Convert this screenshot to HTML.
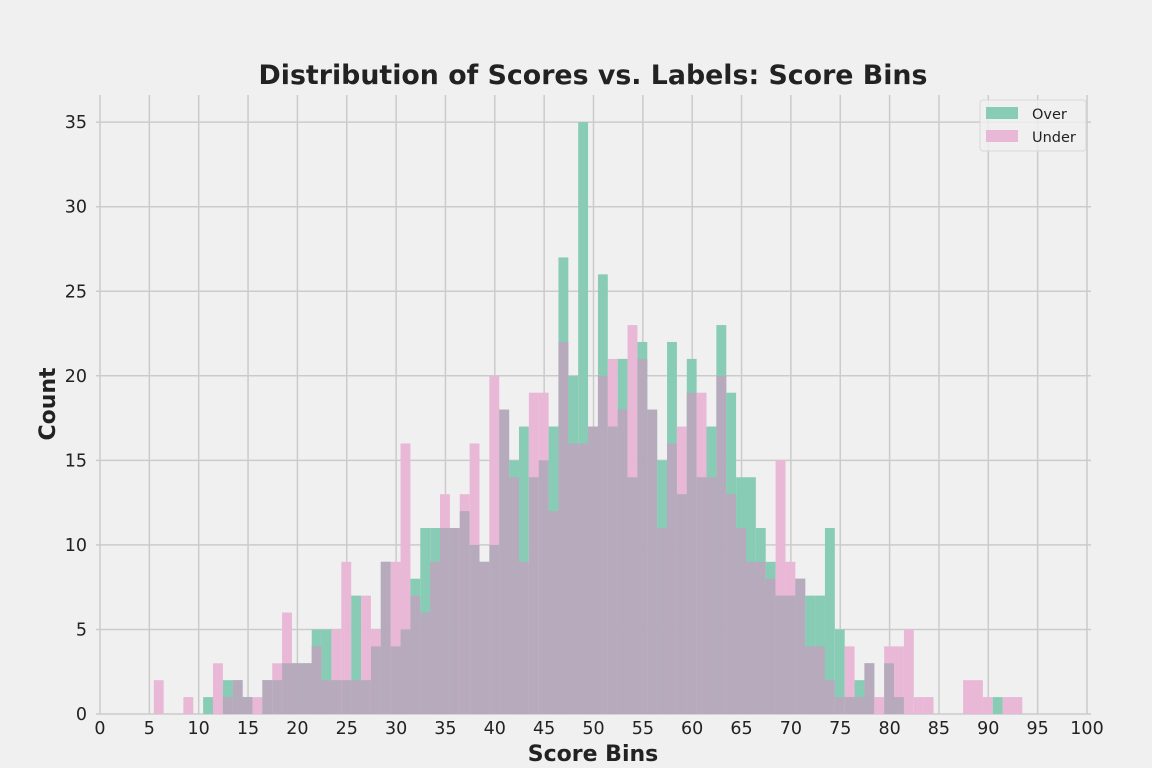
<!DOCTYPE html>
<html><head><meta charset="utf-8"><style>
body{margin:0;background:#f0f0f0;}
svg{display:block;font-family:"DejaVu Sans","Liberation Sans",sans-serif;}
</style></head><body>
<svg id="chart" width="1152" height="768" viewBox="0 0 1152 768">
<rect width="1152" height="768" fill="#f0f0f0"/>
<text x="593" y="84" text-anchor="middle" font-size="26.8" font-weight="bold" fill="#222">Distribution of Scores vs. Labels: Score Bins</text>
<text x="593" y="761" text-anchor="middle" font-size="22" font-weight="bold" fill="#222">Score Bins</text>
<text transform="translate(55,404) rotate(-90)" text-anchor="middle" font-size="22" font-weight="bold" fill="#222">Count</text>
<g id="grid"></g><g id="bars"></g><g id="ticks"></g>
<g>
<rect x="980" y="100" width="106" height="51" rx="3" fill="#f0f0f0" fill-opacity="0.8" stroke="#d8d8d8"/>
<rect x="986" y="107" width="32" height="12" fill="#88ccb5"/>
<text x="1032" y="119" font-size="14.5" fill="#222">Over</text>
<rect x="986" y="130" width="32" height="12" fill="#e9b8d6"/>
<text x="1032" y="142" font-size="14.5" fill="#222">Under</text>
</g>
</svg>
<script>
const binStart = 5.45;
const binWidth = 1;
const overCounts = [0,0,0,0,0,1,0,2,2,1,0,2,2,3,3,3,5,5,2,2,7,2,4,9,4,5,8,11,11,11,11,12,10,9,10,18,15,17,14,15,17,27,20,35,17,26,17,21,14,22,18,15,22,13,21,14,17,23,19,14,14,11,9,7,7,8,7,7,11,5,1,2,3,0,3,1,0,0,0,0,0,0,0,0,0,1,0,0];
const underCounts = [2,0,0,1,0,0,3,1,2,1,1,2,3,6,3,3,4,2,5,9,2,7,5,9,9,16,7,6,9,13,11,13,16,9,20,18,14,9,19,19,12,22,16,16,17,20,21,18,23,21,18,11,16,17,19,19,14,20,13,11,9,9,8,15,9,8,4,4,2,1,4,1,3,1,4,4,5,1,1,0,0,0,2,2,1,0,1,1];
const xTicks = [0,5,10,15,20,25,30,35,40,45,50,55,60,65,70,75,80,85,90,95,100];
const yTicks = [0,5,10,15,20,25,30,35];

const NS = "http://www.w3.org/2000/svg";
const X = v => 100 + v * 9.87;
const Y = v => 714 - v * 16.91;
function mk(tag, attrs, parent){const e=document.createElementNS(NS,tag);for(const k in attrs)e.setAttribute(k,attrs[k]);parent.appendChild(e);return e;}
const grid=document.getElementById('grid'), bars=document.getElementById('bars'), ticks=document.getElementById('ticks');
xTicks.forEach(t=>{
  const l=mk('line',{x1:X(t),x2:X(t),y1:95,y2:714,stroke:'#cbcbcb','stroke-width':1.5},grid);
  
  
  const tx=mk('text',{x:X(t),y:734,'text-anchor':'middle','font-size':17.5,fill:'#222'},ticks);
  tx.textContent=t;
  
  
});
yTicks.forEach(t=>{
  const l=mk('line',{x1:96,x2:1091,y1:Y(t),y2:Y(t),stroke:'#cbcbcb','stroke-width':1.5},grid);
  
  
  const tx=mk('text',{x:87,y:Y(t)+6,'text-anchor':'end','font-size':17.5,fill:'#222'},ticks);
  tx.textContent=t;
  
  
});
overCounts.forEach((o,i)=>{
  const u=underCounts[i]||0;
  const x0=X(binStart+i*binWidth), w=X(binStart+(i+1)*binWidth)-x0;
  const hi=Math.max(o,u), lo=Math.min(o,u);
  if(hi>0){
    const r=mk('rect',{x:x0,y:Y(hi),width:w,height:Y(0)-Y(hi),fill:o>=u?'#88ccb5':'#e9b8d6'},bars);
    
    
  }
  if(lo>0){
    const r=mk('rect',{x:x0,y:Y(lo),width:w,height:Y(0)-Y(lo),fill:'#b6aabc'},bars);
    
    
  }
});
</script>
</body></html>
